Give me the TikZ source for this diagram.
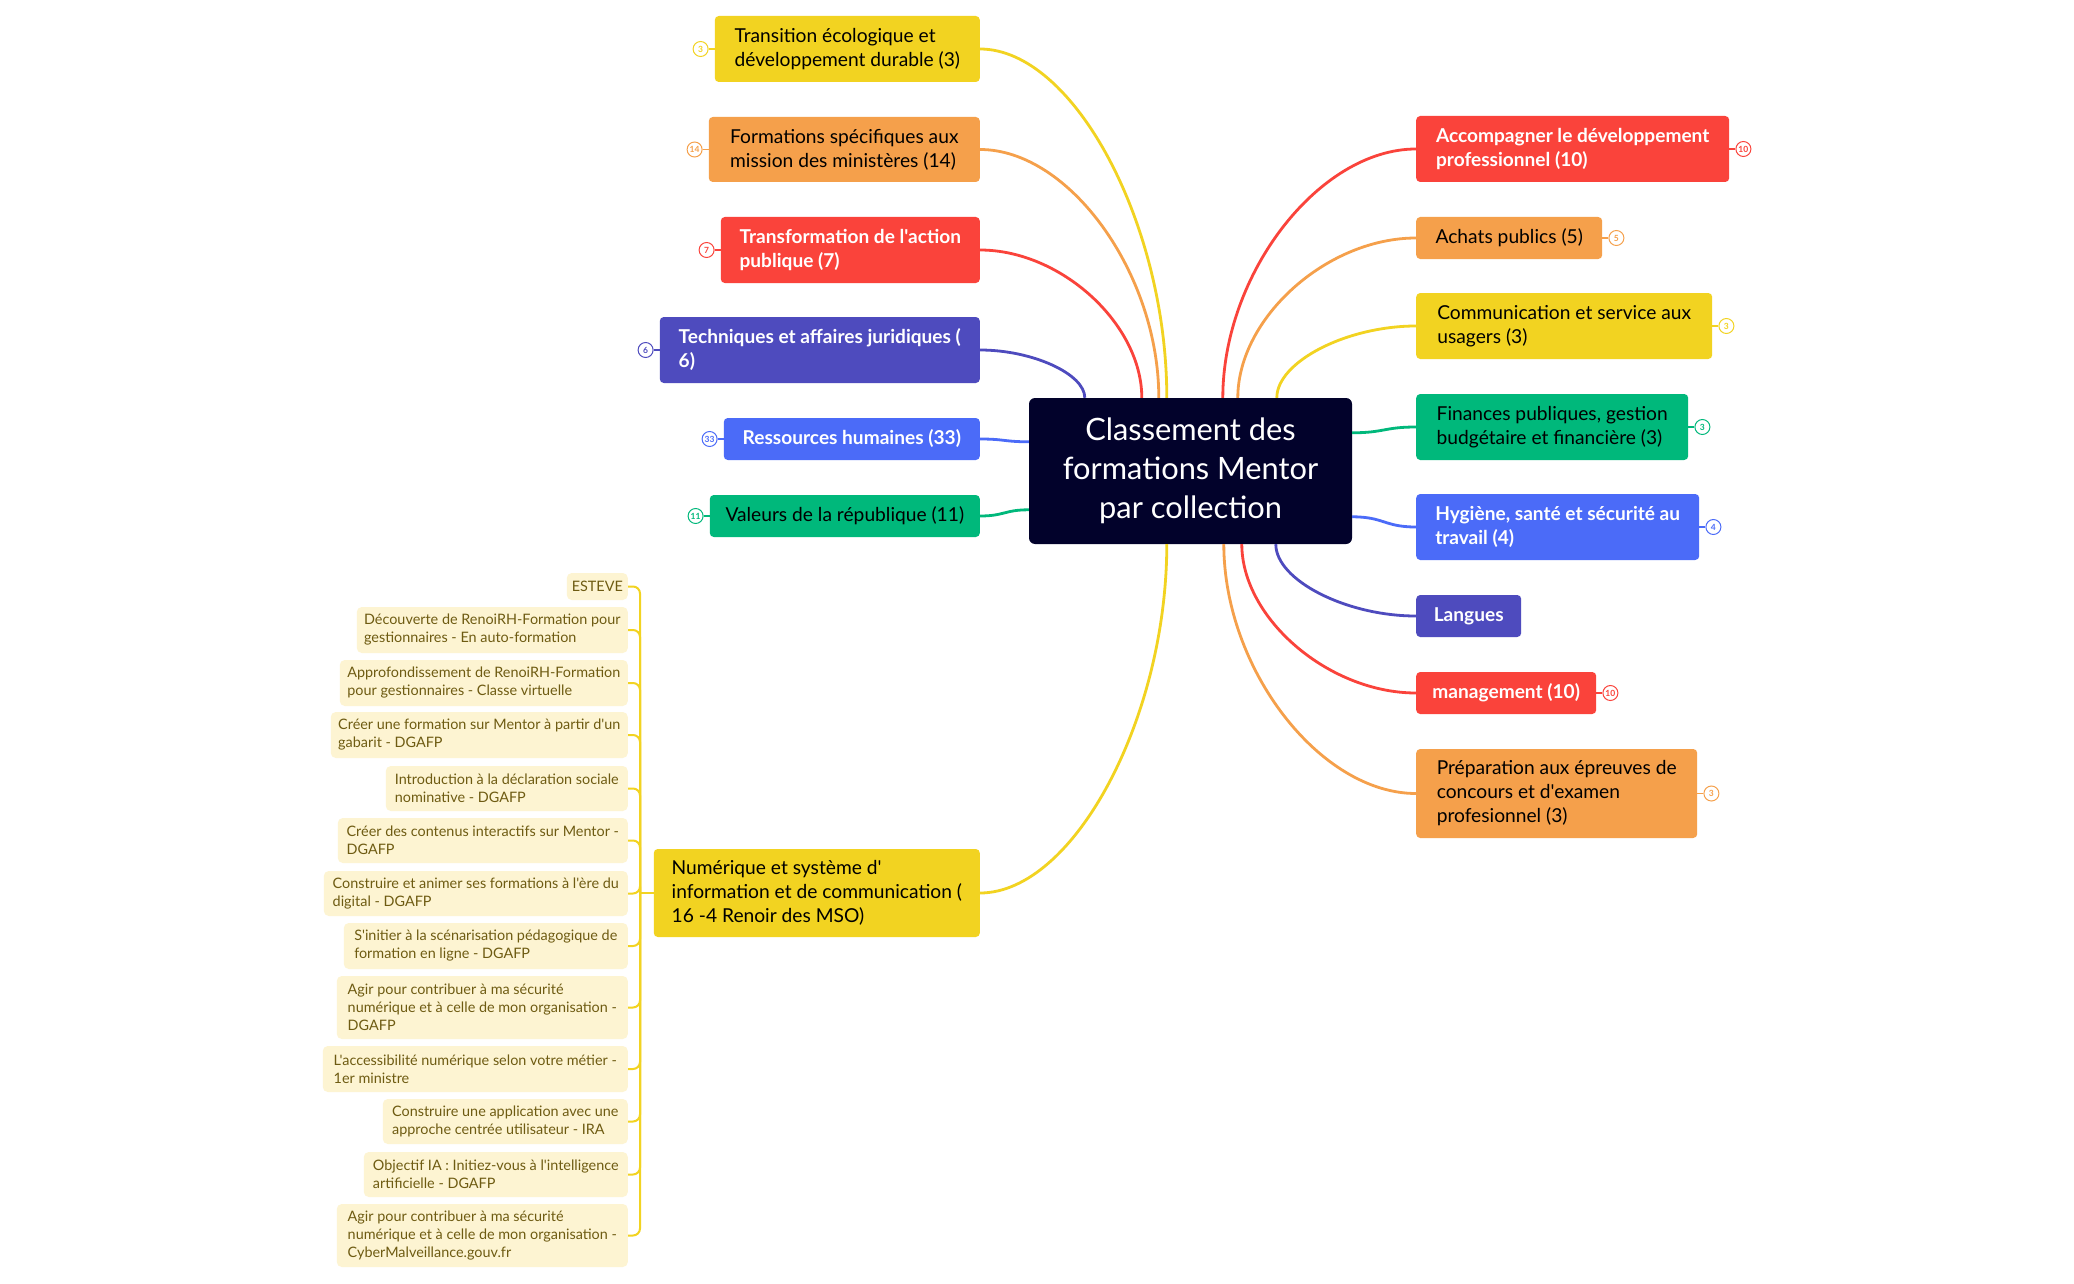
\documentclass[tikz,border=0pt]{standalone}
\usepackage{fontspec}
\setmainfont{Lato}[Ligatures=TeXOff]
\usetikzlibrary{calc}
\definecolor{cyel}{HTML}{F2D321}
\definecolor{corange}{HTML}{F5A04B}
\definecolor{cred}{HTML}{FA433B}
\definecolor{cindigo}{HTML}{4E4BBE}
\definecolor{cblue}{HTML}{4B6BF8}
\definecolor{cgreen}{HTML}{00B87B}
\definecolor{cdark}{HTML}{02022B}
\definecolor{cpale}{HTML}{FDF4D2}
\definecolor{colive}{HTML}{6E5B12}
\newcommand\mmBr{\fontsize{19.2}{24}\selectfont}
\newcommand\mmBrW{\fontsize{19.1}{24}\selectfont\bfseries}
\newcommand\mmCh{\fontsize{14.4}{18}\selectfont}
\newcommand\mmCen{\fontsize{30.8}{39}\selectfont}
\newcommand\mmBadge{\fontsize{8.5}{8.5}\selectfont\bfseries}
\newcommand\mmconn[3]{\draw[conn=#1] (#2) .. controls ($(#2)!0.5!(#2 -| #3)$) and ($(#3)!0.5!(#3 |- #2)$) .. (#3);}
\newcommand\mmside[3]{\draw[conn=#1] (#2) .. controls ($(#2)!0.5!(#2 -| #3)$) and ($(#3)!0.5!(#3 -| #2)$) .. (#3);}
\tikzset{
  brbox/.style={rounded corners=4pt, inner sep=0pt, align=left, text=black, font=\mmBr},
  brw/.style={brbox, text=white, font=\mmBrW},
  chbox/.style={rounded corners=5pt, inner sep=0pt, align=left, fill=cpale, text=colive, font=\mmCh, anchor=east},
  badge/.style={circle, draw=#1, fill=white, text=#1, line width=1pt, minimum size=15pt, inner sep=0pt, font=\mmBadge},
  stub/.style={draw=#1, line width=1.2pt},
  conn/.style={line width=2.8pt, draw=#1},
  chline/.style={line width=2pt, draw=cyel, rounded corners=7pt},
}
\begin{document}
\begin{tikzpicture}[x=1pt,y=-1pt]
\useasboundingbox (0,0) rectangle (2074,1284);
\fill[white] (0,0) rectangle (2074,1284);

% central
\node[fill=cdark, rounded corners=6pt, minimum width=323, minimum height=146, text=white, align=center, font=\mmCen, inner sep=0pt] (central) at (1190.5,471) {Classement des\\formations Mentor\\par collection};

% left branches
\node[brbox, fill=cyel, minimum width=265, minimum height=66, anchor=east] (transition) at (980,49) {Transition écologique et\\développement durable (3)};
\node[brbox, fill=corange, minimum width=271, minimum height=65, anchor=east] (formations) at (980,149.5) {Formations spécifiques aux\\mission des ministères (14)};
\node[brw, fill=cred, minimum width=259, minimum height=66, anchor=east] (transfo) at (980,250) {Transformation de l'action\\publique (7)};
\node[brw, fill=cindigo, minimum width=320, minimum height=66, anchor=east] (techniques) at (980,350) {Techniques et affaires juridiques (\\6)};
\node[brw, fill=cblue, minimum width=256, minimum height=42, anchor=east] (ressources) at (980,439) {Ressources humaines (33)};
\node[brbox, fill=cgreen, minimum width=270, minimum height=42, anchor=east] (valeurs) at (980,516) {Valeurs de la république (11)};
\node[brbox, fill=cyel, minimum width=326, minimum height=88, anchor=east] (numer) at (980,893) {Numérique et système d'\\information et de communication (\\16 -4 Renoir des MSO)};

% right branches
\node[brw, fill=cred, minimum width=313, minimum height=66, anchor=west] (accomp) at (1416,149) {Accompagner le développement\\professionnel (10)};
\node[brbox, fill=corange, minimum width=186, minimum height=42, anchor=west] (achats) at (1416,238) {Achats publics (5)};
\node[brbox, fill=cyel, minimum width=296, minimum height=66, anchor=west] (comm) at (1416,326) {Communication et service aux\\usagers (3)};
\node[brbox, fill=cgreen, minimum width=272, minimum height=66, anchor=west] (finances) at (1416,427) {Finances publiques, gestion\\budgétaire et financière (3)};
\node[brw, fill=cblue, minimum width=283, minimum height=66, anchor=west] (hygiene) at (1416,527) {Hygiène, santé et sécurité au\\travail (4)};
\node[brw, fill=cindigo, minimum width=105, minimum height=42, anchor=west] (langues) at (1416,616) {Langues};
\node[brw, fill=cred, minimum width=180, minimum height=42, anchor=west] (manage) at (1416,693) {management (10)};
\node[brbox, fill=corange, minimum width=281, minimum height=89, anchor=west] (prepa) at (1416,793.5) {Préparation aux épreuves de\\concours et d'examen\\profesionnel (3)};

% badges
\node[badge=cyel] (bTransition) at ($(transition.west)+(-14,0)$) {3};
\node[badge=corange] (bFormations) at ($(formations.west)+(-14,0)$) {14};
\node[badge=cred] (bTransfo) at ($(transfo.west)+(-14,0)$) {7};
\node[badge=cindigo] (bTechniques) at ($(techniques.west)+(-14,0)$) {6};
\node[badge=cblue] (bRessources) at ($(ressources.west)+(-14,0)$) {33};
\node[badge=cgreen] (bValeurs) at ($(valeurs.west)+(-14,0)$) {11};
\node[badge=cred] (bAccomp) at ($(accomp.east)+(14,0)$) {10};
\node[badge=corange] (bAchats) at ($(achats.east)+(14,0)$) {5};
\node[badge=cyel] (bComm) at ($(comm.east)+(14,0)$) {3};
\node[badge=cgreen] (bFinances) at ($(finances.east)+(14,0)$) {3};
\node[badge=cblue] (bHygiene) at ($(hygiene.east)+(14,0)$) {4};
\node[badge=cred] (bManage) at ($(manage.east)+(14,0)$) {10};
\node[badge=corange] (bPrepa) at ($(prepa.east)+(14,0)$) {3};
\draw[stub=cyel] (bTransition) -- (transition.west);
\draw[stub=corange] (bFormations) -- (formations.west);
\draw[stub=cred] (bTransfo) -- (transfo.west);
\draw[stub=cindigo] (bTechniques) -- (techniques.west);
\draw[stub=cblue] (bRessources) -- (ressources.west);
\draw[stub=cgreen] (bValeurs) -- (valeurs.west);
\draw[stub=cred] (bAccomp) -- (accomp.east);
\draw[stub=corange] (bAchats) -- (achats.east);
\draw[stub=cyel] (bComm) -- (comm.east);
\draw[stub=cgreen] (bFinances) -- (finances.east);
\draw[stub=cblue] (bHygiene) -- (hygiene.east);
\draw[stub=cred] (bManage) -- (manage.east);
\draw[stub=corange] (bPrepa) -- (prepa.east);

% attachment points on the central node
\coordinate (tTech) at ($(central.north west)+(56,0)$);
\coordinate (tTransfo) at ($(central.north west)+(113,0)$);
\coordinate (tForm) at ($(central.north west)+(130,0)$);
\coordinate (tTrans) at ($(central.north west)+(138,0)$);
\coordinate (tAccomp) at ($(central.north west)+(194,0)$);
\coordinate (tAchats) at ($(central.north west)+(209,0)$);
\coordinate (tComm) at ($(central.north west)+(248,0)$);
\coordinate (sRess) at ($(central.north west)+(0,44)$);
\coordinate (sVal) at ($(central.north west)+(0,112)$);
\coordinate (sFin) at ($(central.north east)+(0,35)$);
\coordinate (sHyg) at ($(central.north east)+(0,119)$);
\coordinate (uNum) at ($(central.south west)+(138,0)$);
\coordinate (uPrepa) at ($(central.south west)+(195,0)$);
\coordinate (uManage) at ($(central.south west)+(213,0)$);
\coordinate (uLang) at ($(central.south west)+(247,0)$);

% connectors
\mmconn{cyel}{transition.east}{tTrans}
\mmconn{corange}{formations.east}{tForm}
\mmconn{cred}{transfo.east}{tTransfo}
\mmconn{cindigo}{techniques.east}{tTech}
\mmside{cblue}{ressources.east}{sRess}
\mmside{cgreen}{valeurs.east}{sVal}
\mmconn{cyel}{numer.east}{uNum}
\mmconn{cred}{accomp.west}{tAccomp}
\mmconn{corange}{achats.west}{tAchats}
\mmconn{cyel}{comm.west}{tComm}
\mmside{cgreen}{finances.west}{sFin}
\mmside{cblue}{hygiene.west}{sHyg}
\mmconn{cindigo}{langues.west}{uLang}
\mmconn{cred}{manage.west}{uManage}
\mmconn{corange}{prepa.west}{uPrepa}

% children of Numérique
\node[chbox, minimum width=61, minimum height=27] (c1) at (628,586.5) {ESTEVE};
\node[chbox, minimum width=271, minimum height=46] (c2) at (628,630) {Découverte de RenoiRH-Formation pour\\gestionnaires - En auto-formation};
\node[chbox, minimum width=288, minimum height=46] (c3) at (628,683) {Approfondissement de RenoiRH-Formation\\pour gestionnaires - Classe virtuelle};
\node[chbox, minimum width=297, minimum height=46] (c4) at (628,735) {Créer une formation sur Mentor à partir d'un\\gabarit - DGAFP};
\node[chbox, minimum width=242, minimum height=45] (c5) at (628,788.5) {Introduction à la déclaration sociale\\nominative - DGAFP};
\node[chbox, minimum width=290, minimum height=45] (c6) at (628,840.5) {Créer des contenus interactifs sur Mentor -\\DGAFP};
\node[chbox, minimum width=304, minimum height=45] (c7) at (628,893.5) {Construire et animer ses formations à l'ère du\\digital - DGAFP};
\node[chbox, minimum width=284, minimum height=46] (c8) at (628,946) {S'initier à la scénarisation pédagogique de\\formation en ligne - DGAFP};
\node[chbox, minimum width=291, minimum height=63] (c9) at (628,1007.5) {Agir pour contribuer à ma sécurité\\numérique et à celle de mon organisation -\\DGAFP};
\node[chbox, minimum width=305, minimum height=46] (c10) at (628,1069) {L'accessibilité numérique selon votre métier -\\1er ministre};
\node[chbox, minimum width=245, minimum height=45] (c11) at (628,1121.5) {Construire une application avec une\\approche centrée utilisateur - IRA};
\node[chbox, minimum width=264, minimum height=45] (c12) at (628,1174.5) {Objectif IA : Initiez-vous à l'intelligence\\artificielle - DGAFP};
\node[chbox, minimum width=291, minimum height=63] (c13) at (628,1235.5) {Agir pour contribuer à ma sécurité\\numérique et à celle de mon organisation -\\CyberMalveillance.gouv.fr};

\coordinate (trunk) at (640,893);
\draw[chline] (numer.west) -- (trunk);
\foreach \c in {c1,c2,c3,c4,c5,c6,c7,c8,c9,c10,c11,c12,c13}{
  \draw[chline] (trunk) |- (\c.east);
}
\end{tikzpicture}
\end{document}
